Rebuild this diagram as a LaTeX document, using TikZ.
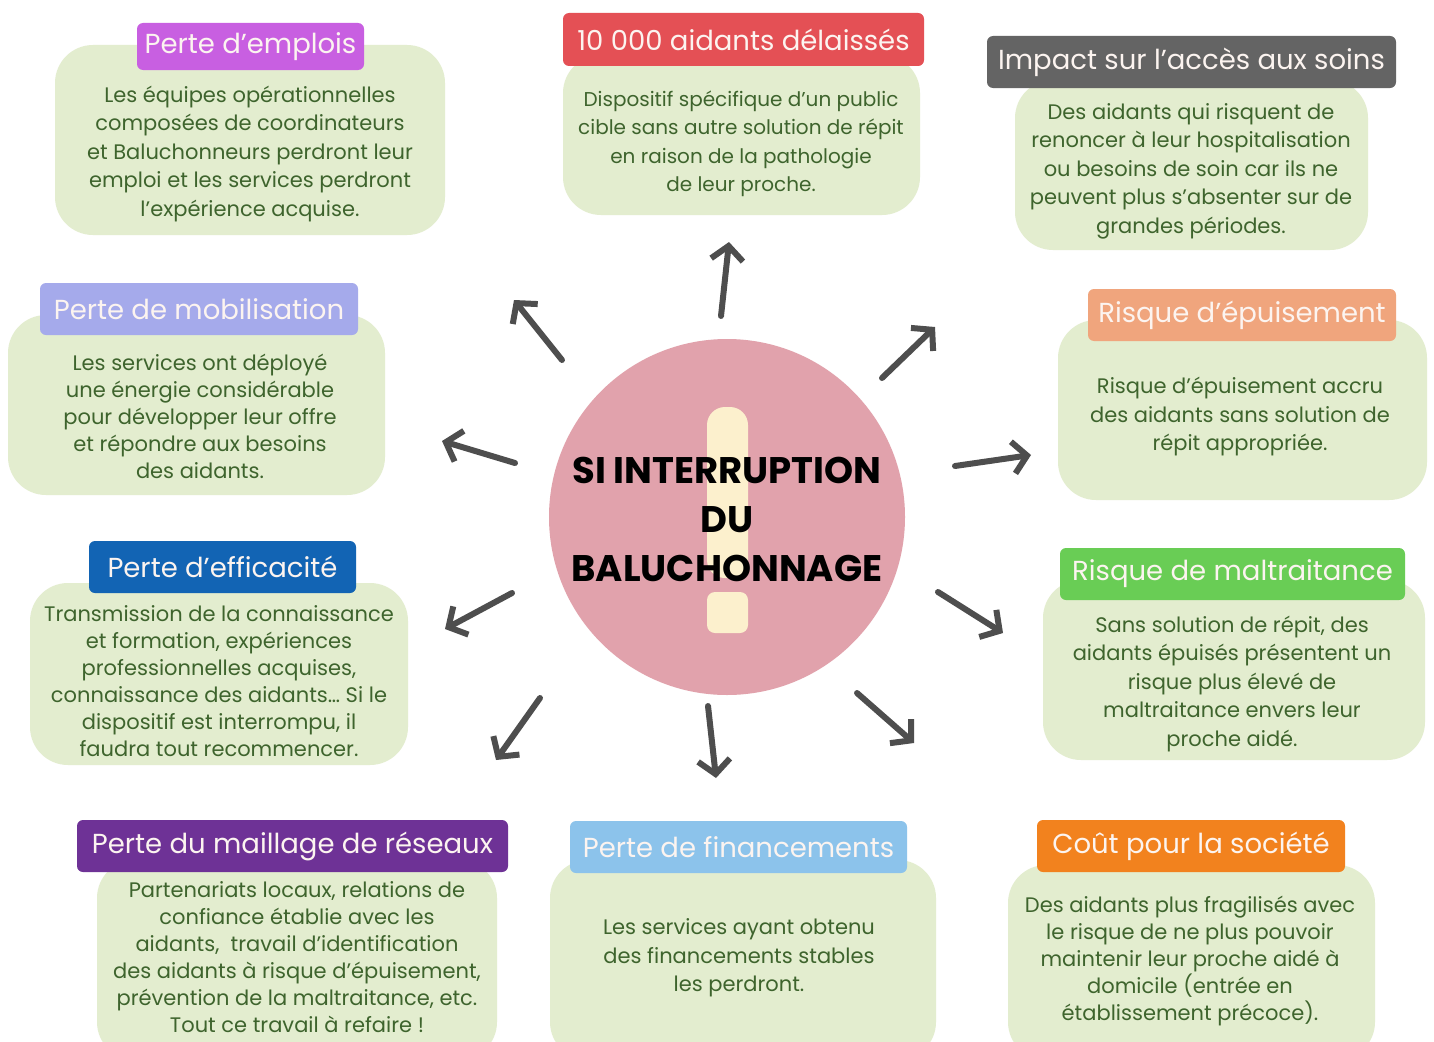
\documentclass[tikz,border=0pt]{standalone}
\usepackage{fontspec}
\setmainfont{Poppins}
\usetikzlibrary{arrows.meta}
\definecolor{cardgreen}{RGB}{227,237,207}
\definecolor{bodygreen}{RGB}{62,100,45}
\definecolor{titletext}{RGB}{252,244,240}
\definecolor{arrowgray}{RGB}{78,78,78}
\definecolor{circlepink}{RGB}{225,162,172}
\definecolor{cream}{RGB}{252,240,205}
\definecolor{cPurple}{RGB}{200,95,225}
\definecolor{cRed}{RGB}{228,80,85}
\definecolor{cGray}{RGB}{100,100,100}
\definecolor{cLavender}{RGB}{165,170,235}
\definecolor{cSalmon}{RGB}{240,165,125}
\definecolor{cBlue}{RGB}{18,100,180}
\definecolor{cGreen}{RGB}{105,205,85}
\definecolor{cDarkPurple}{RGB}{110,50,150}
\definecolor{cLightBlue}{RGB}{140,195,235}
\definecolor{cOrange}{RGB}{242,130,30}
\tikzset{
  card/.style={fill=cardgreen, rounded corners=38pt, draw=none, inner sep=0pt},
  ttl/.style={rounded corners=6pt, text=titletext, inner sep=0pt,
    font=\fontsize{27.5}{30}\selectfont},
  body/.style={text=bodygreen, align=center, inner sep=0pt,
    font=\fontsize{21}{28.5}\selectfont},
  arr/.style={draw=arrowgray, line width=6pt, line cap=round,
    -{Straight Barb[length=14pt, width=32pt, line width=6pt]}}
}
\begin{document}
\begin{tikzpicture}[x=1pt, y=-1pt]
\useasboundingbox (0,0) rectangle (1434,1041);
\clip (0,0) rectangle (1434,1041);
\fill[white] (0,0) rectangle (1434,1041);

% ---------- cards ----------
% 1
\node[card, minimum width=390pt, minimum height=190pt] (g1) at (250,140) {};
\node[ttl, fill=cPurple, minimum width=227pt, minimum height=47pt] (t1) at (250.5,46.5) {Perte d’emplois};
\node[body] (b1) at (250,154) {Les équipes opérationnelles\\composées de coordinateurs\\et Baluchonneurs perdront leur\\emploi et les services perdront\\l’expérience acquise.};
% 2
\node[card, minimum width=357pt, minimum height=160pt] (g2) at (741.5,135) {};
\node[ttl, fill=cRed, minimum width=361pt, minimum height=53pt] (t2) at (743.5,39.5) {10 000 aidants délaissés};
\node[body, font=\fontsize{20}{28.5}\selectfont] (b2) at (741,144) {Dispositif spécifique d’un public\\cible sans autre solution de répit\\en raison de la pathologie\\de leur proche.};
% 3
\node[card, minimum width=353pt, minimum height=170pt] (g3) at (1191.5,165) {};
\node[ttl, fill=cGray, minimum width=409pt, minimum height=52pt] (t3) at (1191.5,62) {Impact sur l’accès aux soins};
\node[body] (b3) at (1191,171) {Des aidants qui risquent de\\renoncer à leur hospitalisation\\ou besoins de soin car ils ne\\peuvent plus s’absenter sur de\\grandes périodes.};
% 4
\node[card, minimum width=377pt, minimum height=180pt] (g4) at (196.5,405) {};
\node[ttl, fill=cLavender, minimum width=318pt, minimum height=52pt] (t4) at (199,309) {Perte de mobilisation};
\node[body, font=\fontsize{21}{27}\selectfont] (b4) at (200,416) {Les services ont déployé\\une énergie considérable\\pour développer leur offre\\et répondre aux besoins\\des aidants.};
% 5
\node[card, minimum width=369pt, minimum height=180pt] (g5) at (1242.5,410) {};
\node[ttl, fill=cSalmon, minimum width=308pt, minimum height=52pt] (t5) at (1242,315) {Risque d’épuisement};
\node[body] (b5) at (1240,417) {Risque d’épuisement accru\\des aidants sans solution de\\répit appropriée.};
% 6
\node[card, minimum width=378pt, minimum height=182pt] (g6) at (219,674) {};
\node[ttl, fill=cBlue, minimum width=267pt, minimum height=52pt] (t6) at (222.5,567) {Perte d’efficacité};
\node[body, font=\fontsize{21}{27}\selectfont] (b6) at (219,681) {Transmission de la connaissance\\et formation, expériences\\professionnelles acquises,\\connaissance des aidants… Si le\\dispositif est interrompu, il\\faudra tout recommencer.};
% 7
\node[card, minimum width=382pt, minimum height=180pt] (g7) at (1234,670) {};
\node[ttl, fill=cGreen, minimum width=345pt, minimum height=52pt] (t7) at (1232.5,574) {Risque de maltraitance};
\node[body] (b7) at (1232,684) {Sans solution de répit, des\\aidants épuisés présentent un\\risque plus élevé de\\maltraitance envers leur\\proche aidé.};
% 8
\node[card, minimum width=400pt, minimum height=200pt] (g8) at (297,960) {};
\node[ttl, fill=cDarkPurple, minimum width=431pt, minimum height=52pt] (t8) at (292.5,846) {Perte du maillage de réseaux};
\node[body, font=\fontsize{21}{27}\selectfont] (b8) at (297,957) {Partenariats locaux, relations de\\confiance établie avec les\\aidants,\ \ travail d’identification\\des aidants à risque d’épuisement,\\prévention de la maltraitance, etc.\\Tout ce travail à refaire !};
% 9
\node[card, minimum width=386pt, minimum height=200pt] (g9) at (743,960) {};
\node[ttl, fill=cLightBlue, minimum width=337pt, minimum height=52pt] (t9) at (738.5,847) {Perte de financements};
\node[body] (b9) at (739,958) {Les services ayant obtenu\\des financements stables\\les perdront.};
% 10
\node[card, minimum width=367pt, minimum height=195pt] (g10) at (1191.5,962.5) {};
\node[ttl, fill=cOrange, minimum width=308pt, minimum height=52pt] (t10) at (1191,846) {Coût pour la société};
\node[body, font=\fontsize{21}{27}\selectfont] (b10) at (1190,961) {Des aidants plus fragilisés avec\\le risque de ne plus pouvoir\\maintenir leur proche aidé à\\domicile (entrée en\\établissement précoce).};

% ---------- centre ----------
\node[circle, fill=circlepink, minimum size=356pt, inner sep=0pt] (c) at (727,517) {};
\fill[cream, rounded corners=18pt] (707,407) rectangle (748,578);
\fill[cream, rounded corners=8pt] (707,592) rectangle (748,633);
\node[font=\bfseries\fontsize{37}{49}\selectfont, align=center, text=black, inner sep=0pt] (ct) at (727,519) {SI INTERRUPTION\\DU\\BALUCHONNAGE};

% ---------- arrows ----------
\coordinate (s1) at (721,316);  \coordinate (e1) at (729,242);
\coordinate (s2) at (562,360);  \coordinate (e2) at (514,300);
\coordinate (s3) at (882,378);  \coordinate (e3) at (935,327);
\coordinate (s4) at (515,463);  \coordinate (e4) at (442,441);
\coordinate (s5) at (955,466);  \coordinate (e5) at (1031,455);
\coordinate (s6) at (512,593);  \coordinate (e6) at (445,629);
\coordinate (s7) at (938,592);  \coordinate (e7) at (1003,633);
\coordinate (s8) at (540,698);  \coordinate (e8) at (496,760);
\coordinate (s9) at (708,706);  \coordinate (e9) at (716,778);
\coordinate (s10) at (857,693); \coordinate (e10) at (914,743);
\foreach \i in {1,...,10} { \draw[arr] (s\i) -- (e\i); }
\end{tikzpicture}
\end{document}
